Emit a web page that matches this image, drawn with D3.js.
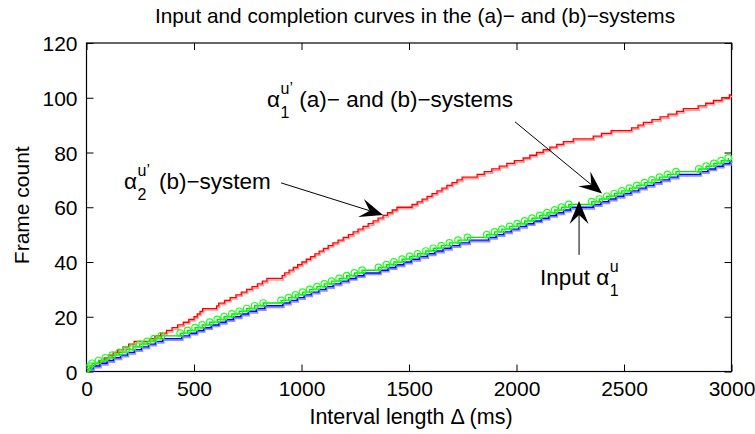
<!DOCTYPE html>
<html><head><meta charset="utf-8">
<script src="https://cdn.jsdelivr.net/npm/d3@7"></script>
<style>
html,body{margin:0;padding:0;background:#fff;}
text{font-family:"Liberation Sans",Arial,Helvetica,sans-serif;fill:#000;}
</style></head>
<body><svg id="c" width="755" height="434"></svg>
<script>
const xTicks = [0, 500, 1000, 1500, 2000, 2500, 3000];
const yTicks = [0, 20, 40, 60, 80, 100, 120];

// Input alpha_1^u (blue): time (ms) at which each count is reached
const inputTimes = [0,30,62,95,125,158,190,222,255,288,320,354,
  443,478,512,545,580,615,648,683,718,752,790,829,
  913,946,980,1012,1045,1080,1113,1147,1182,1218,1253,1290,
  1365,1402,1438,1475,1510,1548,1585,1620,1658,1695,1735,1780,
  1870,1905,1940,1975,2010,2045,2080,2115,2150,2185,2218,2250,
  2357,2392,2428,2462,2498,2532,2568,2602,2638,2672,2710,2750,
  2855,2890,2925,2960,2992,3000];
const inputCounts = [1,2,3,4,5,6,7,8,9,10,11,12,
  13,14,15,16,17,18,19,20,21,22,23,24,
  25,26,27,28,29,30,31,32,33,34,35,36,
  37,38,39,40,41,42,43,44,45,46,47,48,
  49,50,51,52,53,54,55,56,57,58,59,60,
  61,62,63,64,65,66,67,68,69,70,71,72,
  73,74,75,76,77,77];

// Completion alpha_1^u' (green, circles)
const complTimes = [0,14,26,56,88,120,152,184,216,248,282,314,348,
  436,470,505,538,573,608,640,676,710,745,782,822,
  905,940,972,1005,1038,1072,1106,1140,1175,1210,1246,1282,
  1358,1395,1430,1468,1503,1540,1578,1613,1650,1688,1728,1772,
  1862,1898,1932,1968,2003,2038,2072,2108,2142,2178,2210,2243,
  2350,2385,2420,2455,2490,2525,2560,2595,2630,2665,2702,2742,
  2848,2882,2918,2952,2985];
const complCounts = [1,2,3,4,5,6,7,8,9,10,11,12,13,
  14,15,16,17,18,19,20,21,22,23,24,25,
  26,27,28,29,30,31,32,33,34,35,36,37,
  38,39,40,41,42,43,44,45,46,47,48,49,
  50,51,52,53,54,55,56,57,58,59,60,61,
  62,63,64,65,66,67,68,69,70,71,72,73,
  74,75,76,77,78];

// alpha_2^u' (red)
const upperTimes = [0,20,40,60,82,103,124,145,170,196,222,
  294,318,345,372,398,424,450,476,500,515,528,540,
  605,615,642,668,695,720,745,770,795,818,839,
  910,922,942,962,982,1002,1022,1042,1062,1082,1102,1124,1146,1170,1194,1218,1240,1263,1286,1310,1333,1356,1379,1400,1422,1444,
  1514,1538,1561,1584,1607,1630,1653,1676,1700,1723,1747,
  1817,1850,1885,1920,1955,1990,2031,2062,2093,2124,2155,2187,2218,
  2264,2357,2395,2440,2535,2565,2590,2630,2668,2705,2745,2776,
  2845,2880,2916,2955,2990,3000];
const upperCounts = [1,2,3,4,5,6,7,8,9,10,11,
  12,13,14,15,16,17,18,19,20,21,22,23,
  24,25,26,27,28,29,30,31,32,33,34,
  35,36,37,38,39,40,41,42,43,44,45,46,47,48,49,50,51,52,53,54,55,56,57,58,59,60,
  61,62,63,64,65,66,67,68,69,70,71,
  72,73,74,75,76,77,78,79,80,81,82,83,84,
  85,86,87,88,89,90,91,92,93,94,95,96,
  97,98,99,100,101,101];

const svg = d3.select("#c");
const M = {l:86.5, r:731.5, t:43, b:371.5};
const x = d3.scaleLinear().domain([0,3000]).range([M.l, M.r]);
const y = d3.scaleLinear().domain([0,120]).range([M.b, M.t]);

const FS = 21, AFS = 22.5;
// axes
const gx = svg.append("g").attr("transform",`translate(0,${M.b})`)
  .call(d3.axisBottom(x).tickValues(xTicks).tickSize(-7).tickPadding(10).tickFormat(d3.format("d")));
const gxt = svg.append("g").attr("transform",`translate(0,${M.t})`)
  .call(d3.axisTop(x).tickValues(xTicks).tickSize(-7).tickFormat(""));
const gy = svg.append("g").attr("transform",`translate(${M.l},0)`)
  .call(d3.axisLeft(y).tickValues(yTicks).tickSize(-7).tickPadding(9).tickFormat(d3.format("d")));
const gyr = svg.append("g").attr("transform",`translate(${M.r},0)`)
  .call(d3.axisRight(y).tickValues(yTicks).tickSize(-7).tickFormat(""));
[gx,gxt,gy,gyr].forEach(g=>{
  g.select(".domain").remove();
  g.selectAll("line").attr("stroke","#000").attr("stroke-width",1);
  g.selectAll("text").attr("font-size",FS).attr("font-family","Liberation Sans, Arial, sans-serif").attr("fill","#000");
});
gx.selectAll("text").attr("dy","0.71em");
gy.selectAll("text").attr("dy","0.36em");
svg.append("rect").attr("x",M.l).attr("y",M.t).attr("width",M.r-M.l).attr("height",M.b-M.t)
  .attr("fill","none").attr("stroke","#000").attr("stroke-width",1.2);

svg.append("clipPath").attr("id","pc").append("rect")
  .attr("x",M.l).attr("y",M.t-2).attr("width",M.r-M.l+4).attr("height",M.b-M.t+4);
const plot = svg.append("g").attr("clip-path","url(#pc)");

const line = d3.line().x(d=>x(d[0])).y(d=>y(d[1])).curve(d3.curveStepAfter);
const zip = (a,b)=>a.map((v,i)=>[v,b[i]]);
const upper = zip(upperTimes, upperCounts);
const input = zip(inputTimes, inputCounts);
const compl = zip(complTimes, complCounts);

plot.append("path").attr("d",line(upper)).attr("fill","none").attr("stroke","#ff9a9a").attr("stroke-width",1.5).attr("transform","translate(1,1.5)");
plot.append("path").attr("d",line(upper)).attr("fill","none").attr("stroke","#ff0000").attr("stroke-width",1.3);
plot.append("path").attr("d",line(input)).attr("fill","none").attr("stroke","#8f8fff").attr("stroke-width",1.8).attr("transform","translate(1,1.5)");
plot.append("path").attr("d",line(input)).attr("fill","none").attr("stroke","#0000ff").attr("stroke-width",1.4);
plot.append("path").attr("d",line(compl)).attr("fill","none").attr("stroke","#00e600").attr("stroke-width",1.4);
plot.selectAll("circle.c").data(compl).join("circle").attr("class","c")
  .attr("cx",d=>x(d[0])).attr("cy",d=>y(d[1])).attr("r",3.3)
  .attr("fill","none").attr("stroke","#22ff22").attr("stroke-width",1.2);

// labels
svg.append("text").attr("x",415).attr("y",23).attr("text-anchor","middle").attr("font-size",20.8)
  .text("Input and completion curves in the (a)\u2212 and (b)\u2212systems");
svg.append("text").attr("x",(M.l+M.r)/2+2).attr("y",424).attr("text-anchor","middle").attr("font-size",21.5)
  .text("Interval length \u0394 (ms)");
svg.append("text").attr("transform",`translate(29,${(M.t+M.b)/2-2}) rotate(-90)`).attr("text-anchor","middle").attr("font-size",FS)
  .text("Frame count");

function alphaLabel(px, py, sub, sup, rest, pre, gap){
  const g = svg.append("g");
  let cx = px;
  if(pre){
    const t = g.append("text").attr("x",cx).attr("y",py).attr("font-size",AFS).text(pre);
    cx += t.node().getComputedTextLength() + AFS*0.28;
  }
  const a = g.append("text").attr("x",cx).attr("y",py).attr("font-size",AFS).text("\u03b1");
  cx += a.node().getComputedTextLength()+0.5;
  const s1 = g.append("text").attr("x",cx).attr("y",py+11).attr("font-size",16).text(sub);
  const s2 = g.append("text").attr("x",cx).attr("y",py-13).attr("font-size",16).text(sup);
  cx += Math.max(s1.node().getComputedTextLength(), s2.node().getComputedTextLength());
  if(rest) g.append("text").attr("x",cx + (gap||AFS*0.28)).attr("y",py).attr("font-size",AFS).text(rest);
}
alphaLabel(267,107,"1","u\u2019","(a)\u2212 and (b)\u2212systems");
alphaLabel(124,189,"2","u\u2019","(b)\u2212system",null,9);
alphaLabel(540,285,"1","u",null,"Input");

function arrow(x0,y0,x1,y1){
  const X0=x(x0),Y0=y(y0),X1=x(x1),Y1=y(y1);
  const ang=Math.atan2(Y1-Y0,X1-X0), L=23, W=9.5, N=14;
  const c=Math.cos(ang), s=Math.sin(ang);
  const p=(u,v)=>[X1+u*c - v*s, Y1+u*s + v*c];
  svg.append("line").attr("x1",X0).attr("y1",Y0).attr("x2",p(-N,0)[0]).attr("y2",p(-N,0)[1])
    .attr("stroke","#000").attr("stroke-width",1);
  const pts=[p(0,0),p(-L,W),p(-N,0),p(-L,-W)];
  svg.append("path").attr("d","M"+pts.map(q=>q.join(",")).join("L")+"Z").attr("fill","#000");
}
arrow(905,68.9,1379,57.2);
arrow(1993,91.2,2398,65);
arrow(2291,42.6,2291,62.3);
</script></body></html>
